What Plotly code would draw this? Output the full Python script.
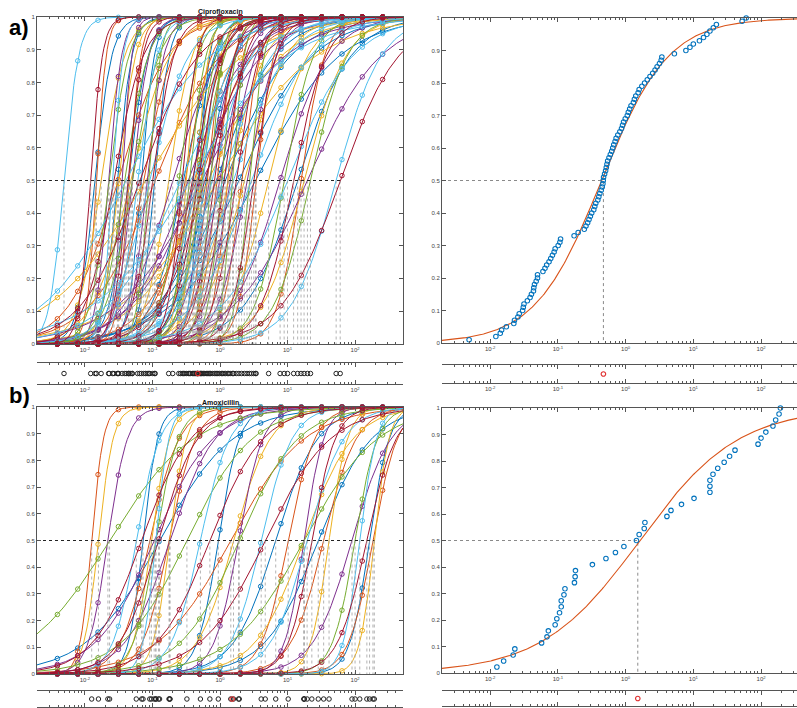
import numpy as np
import plotly.graph_objects as go

# ---------------- data ----------------
colors = ["#0072BD", "#D95319", "#EDB120", "#7E2F8E", "#77AC30", "#4DBEEE", "#A2142F"]

# tested concentrations (two-fold dilution series)
conc_tested = [0.00390625, 0.0078125, 0.015625, 0.03125, 0.0625, 0.125, 0.25, 0.5,
               1, 2, 4, 8, 16, 32, 64, 128, 256]

# Ciprofloxacin: log10 EC50 of each isolate (sorted) and fitted Hill slope
log_ec50_cipro = [
    -2.31, -1.915, -1.85, -1.83, -1.76, -1.65, -1.64, -1.59, -1.57, -1.52,
    -1.51, -1.50, -1.45, -1.41, -1.39, -1.36, -1.355, -1.345, -1.32, -1.30,
    -1.30, -1.22, -1.19, -1.165, -1.13, -1.105, -1.08, -1.055, -1.04, -0.995,
    -0.97, -0.96, -0.76, -0.70, -0.61, -0.585, -0.56, -0.54, -0.52, -0.50,
    -0.47, -0.455, -0.44, -0.41, -0.395, -0.38, -0.36, -0.345, -0.335, -0.33,
    -0.325, -0.31, -0.295, -0.285, -0.275, -0.265, -0.245, -0.225, -0.205, -0.19,
    -0.175, -0.155, -0.14, -0.115, -0.085, -0.06, -0.045, -0.03, -0.005, 0.025,
    0.04, 0.06, 0.08, 0.115, 0.13, 0.15, 0.185, 0.20, 0.24, 0.28,
    0.32, 0.36, 0.40, 0.435, 0.465, 0.50, 0.525, 0.535, 0.72, 0.89,
    0.95, 1.0, 1.09, 1.15, 1.20, 1.245, 1.295, 1.34, 1.72, 1.78]
hill_cipro = [
    4.0, 5.0, 3.5, 6.0, 2.5, 4.5, 3.0, 5.5, 2.0, 4.0,
    1.2, 3.5, 6.0, 2.5, 0.7, 4.0, 3.0, 5.0, 1.5, 3.5,
    2.2, 3.0, 1.0, 4.5, 2.0, 0.6, 3.5, 5.0, 1.5, 2.8,
    4.0, 0.9, 2.5, 1.2, 3.0, 0.8, 4.0, 1.8, 2.2, 5.0,
    1.0, 3.5, 0.6, 2.0, 2.8, 1.4, 4.5, 0.9, 3.2, 1.6,
    2.4, 5.5, 1.1, 3.0, 0.7, 2.6, 4.0, 1.3, 2.0, 3.6,
    0.8, 2.2, 4.8, 1.5, 2.9, 1.0, 3.4, 0.6, 2.1, 4.2,
    1.2, 2.7, 0.9, 3.8, 1.6, 2.3, 5.0, 1.1, 2.5, 0.8,
    3.1, 1.4, 2.0, 4.0, 1.0, 2.6, 0.7, 3.3, 1.5, 1.2,
    2.0, 0.9, 1.8, 1.1, 2.5, 1.4, 0.8, 1.6, 1.3, 1.0]

# Amoxicillin
log_ec50_amox = [
    -1.90, -1.80, -1.66, -1.635, -1.24, -1.16, -1.14, -1.04, -1.015, -0.975,
    -0.95, -0.95, -0.91, -0.895, -0.755, -0.745, -0.74, -0.49, -0.29, -0.15,
    -0.025, 0.16, 0.20, 0.275, 0.285, 0.61, 0.67, 0.825, 1.01, 1.245,
    1.245, 1.245, 1.29, 1.36, 1.455, 1.535, 1.615, 1.955, 2.00, 2.07,
    2.175, 2.215, 2.265, 2.285]
hill_amox = [
    5.0, 4.0, 3.0, 0.7, 2.5, 1.2, 4.0, 2.0, 3.2, 1.0,
    2.6, 4.5, 1.5, 0.8, 2.2, 3.5, 1.3, 0.9, 2.0, 1.1,
    2.8, 0.8, 1.6, 2.4, 1.0, 1.9, 0.9, 1.4, 2.2, 1.2,
    3.0, 0.8, 1.6, 2.5, 1.1, 1.8, 3.2, 1.5, 2.6, 3.5,
    2.0, 3.0, 2.4, 4.0]

# fitted population curves (log10 midpoint, Hill slope)
fit_cipro_mid, fit_cipro_hill = -0.355, 0.886
fit_amox_mid, fit_amox_hill = 0.21, 0.60

major_tickvals = [0.01, 0.1, 1, 10, 100]
major_ticktext = ["10<sup>-2</sup>", "10<sup>-1</sup>", "10<sup>0</sup>", "10<sup>1</sup>", "10<sup>2</sup>"]
y_tickvals = [0, 0.1, 0.2, 0.3, 0.4, 0.5, 0.6, 0.7, 0.8, 0.9, 1]
y_ticktext = ["0", "0.1", "0.2", "0.3", "0.4", "0.5", "0.6", "0.7", "0.8", "0.9", "1"]

titles = ["Ciprofloxacin", "Amoxicillin"]
panel_labels = ["a)", "b)"]

# ---------------- layout geometry ----------------
W, H = 797, 708
XR_LEFT = [-2.71, 2.71]
XR_RIGHT = [-2.71, 2.53]
minor_vals = [k * 10.0 ** d for d in range(-3, 3) for k in range(2, 10)
              if -2.75 < np.log10(k * 10.0 ** d) < 2.75]


def hill(logx, logec, n):
    return 1.0 / (1.0 + 10.0 ** (n * (logec - logx)))


def dx(a, b):
    return [a / W, b / W]


def dy(top, bottom):
    return [1 - bottom / H, 1 - top / H]


fig = go.Figure()
tickfont = dict(family="Liberation Sans, Arial", size=6, color="#444")
axcol = "#555"


def xaxis_cfg(domain, rng, anchor, labels=True):
    return dict(type="log", range=rng, domain=domain, anchor=anchor, automargin=False,
                tickmode="array", tickvals=major_tickvals, ticktext=major_ticktext,
                showticklabels=labels, ticks="inside", ticklen=4, tickwidth=1, tickcolor=axcol,
                minor=dict(tickmode="array", tickvals=minor_vals, ticks="inside", ticklen=2,
                           tickwidth=0.8, tickcolor=axcol, showgrid=False),
                showline=True, linecolor=axcol, linewidth=1, mirror="ticks",
                showgrid=False, zeroline=False, tickfont=tickfont)


def yaxis_cfg(domain, anchor, mirror):
    return dict(range=[0, 1], domain=domain, anchor=anchor, automargin=False,
                tickmode="array", tickvals=y_tickvals, ticktext=y_ticktext,
                ticks="inside", ticklen=4, tickwidth=1, tickcolor=axcol,
                showline=True, linecolor=axcol, linewidth=1, mirror=mirror,
                showgrid=False, zeroline=False, tickfont=tickfont)


def strip_y(domain, anchor):
    return dict(range=[-1, 1], domain=domain, anchor=anchor, visible=False, automargin=False,
                showgrid=False, zeroline=False)


panels = [
    # (log_ec50, hill, fit_mid, fit_hill, main_top, main_bottom, strip_top, strip_bottom,
    #  rstrip_top, rstrip_bottom, colour offset)
    (log_ec50_cipro, hill_cipro, fit_cipro_mid, fit_cipro_hill, 17, 344, 363, 384, 365, 383, 5),
    (log_ec50_amox, hill_amox, fit_amox_mid, fit_amox_hill, 407, 674, 691, 707, 691, 706, 1),
]

layout_axes = {}
for p, (lec, nh, fmid, fhill, mt, mb, st, sb, rst, rsb, cshift) in enumerate(panels):
    base = p * 4
    xa_l, xs_l, xa_r, xs_r = base + 1, base + 2, base + 3, base + 4
    name = lambda i: "" if i == 1 else str(i)

    # left main panel: individual dose-response fits
    logx = np.linspace(XR_LEFT[0], XR_LEFT[1], 220)
    for c in range(len(colors)):
        lx, ly, px, py = [], [], [], []
        for i in range(len(lec)):
            if (i + cshift) % len(colors) != c:
                continue
            lx += list(10 ** logx) + [None]
            ly += list(hill(logx, lec[i], nh[i])) + [None]
            for cx in conc_tested:
                px.append(cx)
                py.append(round(float(hill(np.log10(cx), lec[i], nh[i])), 3))
        fig.add_trace(go.Scatter(x=lx, y=ly, mode="lines", line=dict(color=colors[c], width=1),
                                 xaxis="x" + name(xa_l), yaxis="y" + name(xa_l),
                                 hoverinfo="skip", showlegend=False))
        fig.add_trace(go.Scatter(x=px, y=py, mode="markers", cliponaxis=False,
                                 marker=dict(symbol="circle-open", size=4.5, color=colors[c],
                                             line=dict(width=1)),
                                 xaxis="x" + name(xa_l), yaxis="y" + name(xa_l),
                                 showlegend=False))
    # dotted EC50 guide lines
    vx, vy = [], []
    for v in lec:
        vx += [10 ** v, 10 ** v, None]
        vy += [0.5, 0, None]
    fig.add_trace(go.Scatter(x=vx, y=vy, mode="lines", line=dict(color="#a0a0a0", width=0.8, dash="dot"),
                             xaxis="x" + name(xa_l), yaxis="y" + name(xa_l), showlegend=False, hoverinfo="skip"))
    fig.add_trace(go.Scatter(x=[10 ** XR_LEFT[0], 10 ** max(lec)], y=[0.5, 0.5], mode="lines",
                             line=dict(color="#222", width=1, dash="dot"),
                             xaxis="x" + name(xa_l), yaxis="y" + name(xa_l), showlegend=False, hoverinfo="skip"))

    med = float(np.median(lec))
    # left strip
    fig.add_trace(go.Scatter(x=[10 ** v for v in lec], y=[0] * len(lec), mode="markers", cliponaxis=False,
                             marker=dict(symbol="circle-open", size=4.5, color="#222", line=dict(width=1)),
                             xaxis="x" + name(xs_l), yaxis="y" + name(xs_l), showlegend=False))
    fig.add_trace(go.Scatter(x=[10 ** med], y=[0], mode="markers", cliponaxis=False,
                             marker=dict(symbol="circle-open", size=4.5, color="#E03030", line=dict(width=1.2)),
                             xaxis="x" + name(xs_l), yaxis="y" + name(xs_l), showlegend=False))

    # right main panel: cumulative distribution of EC50s + fit
    n = len(lec)
    srt = sorted(lec)
    ecdf_y = [(k + 1) / n for k in range(n)]
    rlogx = np.linspace(XR_RIGHT[0], XR_RIGHT[1], 300)
    fig.add_trace(go.Scatter(x=[10 ** XR_RIGHT[0], 10 ** med, 10 ** med], y=[0.5, 0.5, 0], mode="lines",
                             line=dict(color="#8a8a8a", width=1, dash="dot"),
                             xaxis="x" + name(xa_r), yaxis="y" + name(xa_r), showlegend=False, hoverinfo="skip"))
    fig.add_trace(go.Scatter(x=10 ** rlogx, y=hill(rlogx, fmid, fhill), mode="lines",
                             line=dict(color="#D95319", width=1.1),
                             xaxis="x" + name(xa_r), yaxis="y" + name(xa_r), showlegend=False))
    fig.add_trace(go.Scatter(x=[10 ** v for v in srt], y=ecdf_y, mode="markers", cliponaxis=False,
                             marker=dict(symbol="circle-open", size=4.5, color="#0072BD", line=dict(width=1.1)),
                             xaxis="x" + name(xa_r), yaxis="y" + name(xa_r), showlegend=False))
    # right strip: median only
    fig.add_trace(go.Scatter(x=[10 ** med], y=[0], mode="markers", cliponaxis=False,
                             marker=dict(symbol="circle-open", size=4.5, color="#E03030", line=dict(width=1.2)),
                             xaxis="x" + name(xs_r), yaxis="y" + name(xs_r), showlegend=False))

    layout_axes["xaxis" + name(xa_l)] = xaxis_cfg(dx(37, 403), XR_LEFT, "y" + name(xa_l))
    layout_axes["yaxis" + name(xa_l)] = yaxis_cfg(dy(mt, mb), "x" + name(xa_l), "ticks")
    layout_axes["xaxis" + name(xs_l)] = xaxis_cfg(dx(37, 403), XR_LEFT, "y" + name(xs_l))
    layout_axes["yaxis" + name(xs_l)] = strip_y(dy(st, sb), "x" + name(xs_l))
    layout_axes["xaxis" + name(xa_r)] = xaxis_cfg(dx(442, 797), XR_RIGHT, "y" + name(xa_r))
    layout_axes["yaxis" + name(xa_r)] = yaxis_cfg(dy(mt + 1, mb - 1), "x" + name(xa_r), False)
    layout_axes["xaxis" + name(xs_r)] = xaxis_cfg(dx(442, 797), XR_RIGHT, "y" + name(xs_r))
    layout_axes["yaxis" + name(xs_r)] = strip_y(dy(rst, rsb), "x" + name(xs_r))


def ann(text, xp, yp, size, color, bold=True):
    return dict(text=("<b>" + text + "</b>") if bold else text, x=xp / W, y=1 - yp / H,
                xref="paper", yref="paper", xanchor="center", yanchor="middle",
                showarrow=False, font=dict(family="Liberation Sans, Arial", size=size, color=color))


annotations = [
    ann(titles[0], 220, 12, 7, "#111"),
    ann(titles[1], 220, 402, 7, "#111"),
    ann(panel_labels[0], 19, 27, 22, "#000"),
    ann(panel_labels[1], 19, 396, 22, "#000"),
]

fig.update_layout(width=W, height=H, margin=dict(l=0, r=0, t=0, b=0, autoexpand=False),
                  paper_bgcolor="white", plot_bgcolor="white", showlegend=False,
                  annotations=annotations, **layout_axes)
fig.write_html("out.html", config={"displayModeBar": False},
               post_script=("document.documentElement.style.margin='0px';"
                            "document.documentElement.style.overflow='hidden';"
                            "document.body.style.margin='0px';"
                            "document.body.style.overflow='hidden';"))
